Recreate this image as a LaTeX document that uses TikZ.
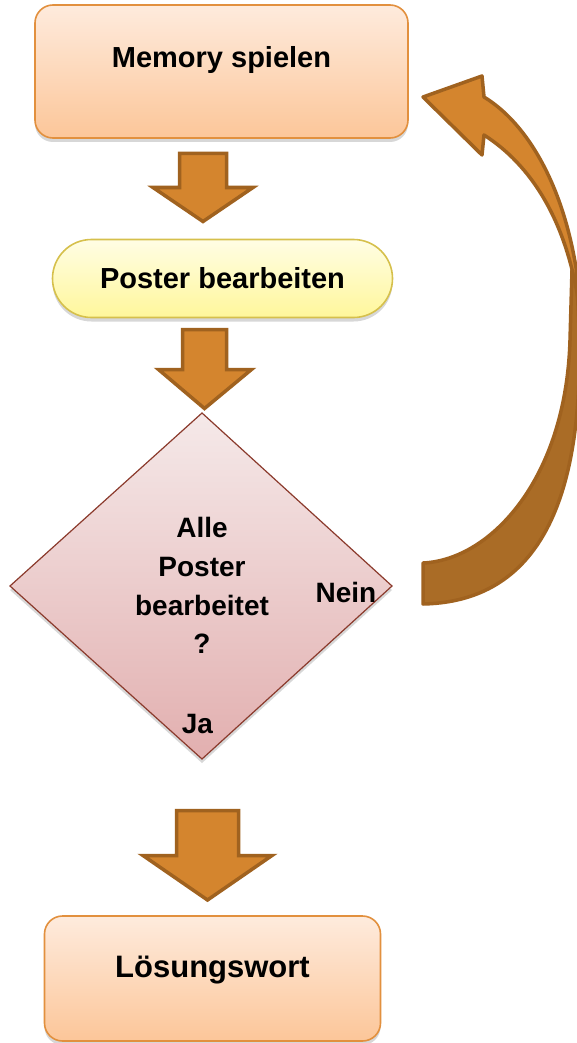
\documentclass[tikz,border=0pt]{standalone}
\usepackage{fontspec}
\setmainfont{Liberation Sans}
\usetikzlibrary{shadows}
\definecolor{boxtop}{HTML}{FEEBDD}
\definecolor{boxbot}{HTML}{FCC699}
\definecolor{boxline}{HTML}{E2903E}
\definecolor{elltop}{HTML}{FFFDE4}
\definecolor{ellbot}{HTML}{FFF79B}
\definecolor{ellline}{HTML}{D6C04C}
\definecolor{dectop}{HTML}{F5E9E9}
\definecolor{decbot}{HTML}{E2AFAF}
\definecolor{decline}{HTML}{8B3A2C}
\definecolor{arrfill}{HTML}{D4852E}
\definecolor{arrline}{HTML}{A0621F}
\definecolor{arrdark}{HTML}{AA6C26}
\tikzset{
  shadowed/.style={drop shadow={shadow xshift=0pt, shadow yshift=-4pt, opacity=0.22, fill=black!70}},
  procbox/.style={draw=boxline, line width=1.6pt, rounded corners=18pt, top color=boxtop, bottom color=boxbot, inner sep=0pt, shadowed},
  termbox/.style={draw=ellline, line width=1.6pt, rounded corners=39pt, top color=elltop, bottom color=ellbot, inner sep=0pt, shadowed},
  decbox/.style={draw=decline, line width=1.2pt, top color=dectop, bottom color=decbot, shadowed},
  blockarrow/.style={draw=arrline, fill=arrfill, line width=3.5pt, line join=miter},
  curvelight/.style={draw=arrline, fill=arrfill, line width=3.5pt, line join=round},
  curvedark/.style={draw=arrline, fill=arrdark, line width=3.5pt, line join=round},
  lbl/.style={font=\bfseries\fontsize{29}{35}\selectfont, inner sep=0pt, anchor=base},
  qlbl/.style={font=\bfseries\fontsize{28}{34}\selectfont, inner sep=0pt, anchor=base}
}
\begin{document}
\begin{tikzpicture}[x=1pt,y=-1pt]
\useasboundingbox (0,0) rectangle (576,1043);
\fill[white] (0,0) rectangle (576,1043);

% boxes
\node[procbox, minimum width=373pt, minimum height=133pt] (mem) at (221.5,71.5) {};
\node[lbl] (memt) at (221.5,68) {Memory spielen};

\node[termbox, minimum width=340pt, minimum height=78pt] (post) at (222.5,278.5) {};
\node[lbl] (postt) at (222.5,288) {Poster bearbeiten};

\coordinate (dT) at (202,413);
\coordinate (dR) at (392,586);
\coordinate (dB) at (202,759);
\coordinate (dL) at (10,586);
\path[decbox] (dT) -- (dR) -- (dB) -- (dL) -- cycle;
\node[qlbl] (q1) at (202,537) {Alle};
\node[qlbl] (q2) at (202,576) {Poster};
\node[qlbl] (q3) at (202,615) {bearbeitet};
\node[qlbl] (q4) at (202,653) {?};
\node[qlbl] (nein) at (346,602) {Nein};
\node[qlbl] (ja) at (197.5,733) {Ja};

\node[procbox, minimum width=336pt, minimum height=125pt] (loes) at (212.5,978.5) {};
\node[lbl, font=\bfseries\fontsize{31}{37}\selectfont] (loest) at (212.5,977) {Lösungswort};

% block arrows
\draw[blockarrow] (179.5,153.5) -- (226.5,153.5) -- (226.5,187.5) -- (253,187.5) -- (203,221.5) -- (153,187.5) -- (179.5,187.5) -- cycle;
\draw[blockarrow] (182.5,329.5) -- (226.5,329.5) -- (226.5,369.5) -- (251.5,369.5) -- (204.5,408.5) -- (158.5,369.5) -- (182.5,369.5) -- cycle;
\draw[blockarrow] (176.5,810.5) -- (238.5,810.5) -- (238.5,855.5) -- (272,855.5) -- (207.5,900) -- (143,855.5) -- (176.5,855.5) -- cycle;

% curved return arrow
\coordinate (tailB) at (423,604);
\coordinate (tailT) at (423,563);
\draw[curvedark] (tailB) -- (tailT) .. controls (490,560) and (566,480) .. (570,340) -- (572,270) -- (576,270) .. controls (577,290) and (578,300) .. (579,330) .. controls (585,530) and (520,602) .. (tailB) -- cycle;
\draw[curvelight] (423,97) -- (482,76) -- (484,97) .. controls (535,128) and (578,210) .. (582,330) .. controls (572,220) and (528,163) .. (484,135) -- (482,155) -- cycle;
\end{tikzpicture}
\end{document}
